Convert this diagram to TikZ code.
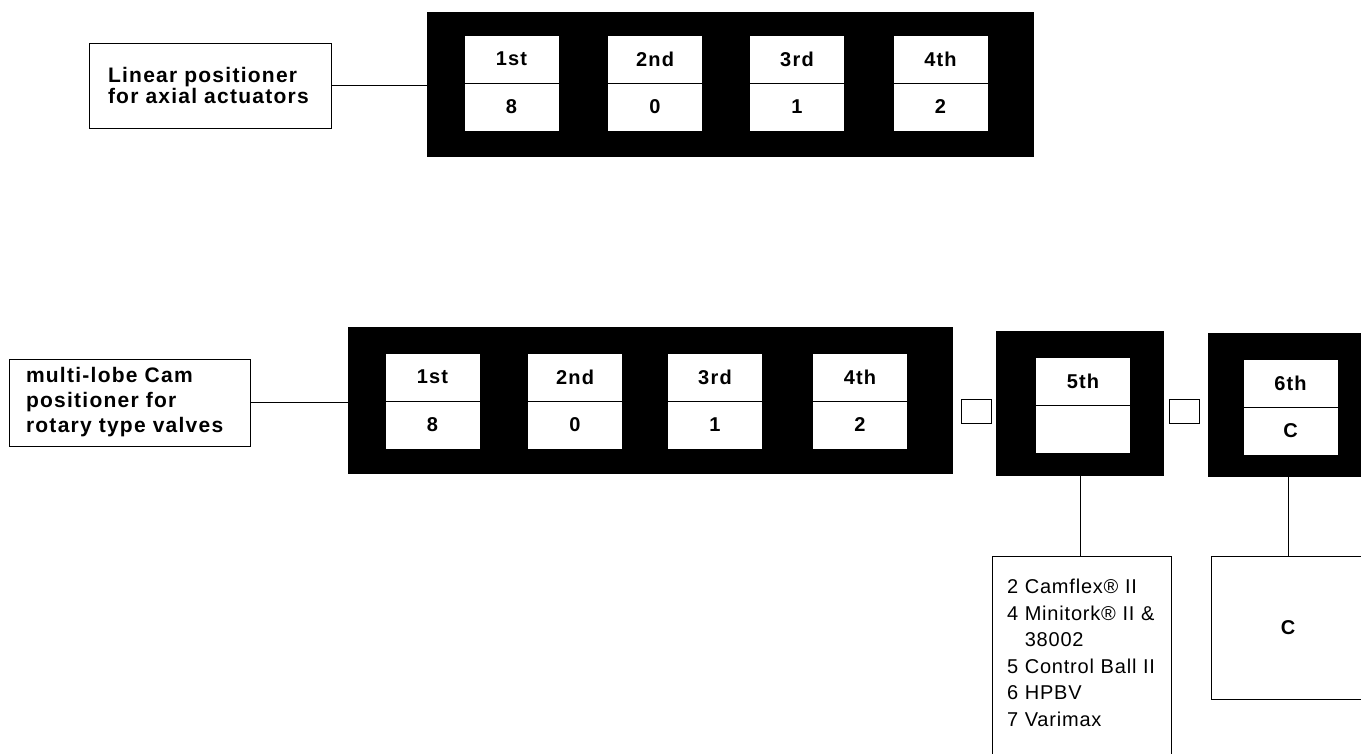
\documentclass[tikz,border=0pt]{standalone}
\usepackage{fontspec}
\setmainfont{Liberation Sans}
\newfontfamily\tagfont[LetterSpace=6]{Liberation Sans}
\newfontfamily\listfont[LetterSpace=4]{Liberation Sans}
\usepackage{tikz}
\usetikzlibrary{shapes}

\begin{document}
\begin{tikzpicture}[x=1pt,y=-1pt]
    \clip (0,0) rectangle (1361,753);
    \tikzstyle{bar}=[rectangle, fill=black, inner sep=0pt]
    \tikzstyle{half}=[rectangle, draw, fill=white, line width=0.8pt, inner sep=0pt,
    minimum width = 95pt, minimum height = 48pt,
    font=\tagfont\bfseries\fontsize{20}{24}\selectfont]
    \tikzstyle{tag}=[rectangle, draw, line width=0.8pt, align=left, inner ysep=0pt]
    \tikzstyle{sq}=[rectangle, draw, line width=0.8pt, minimum width = 30pt,
    minimum height = 24pt, inner sep=0pt]

    % top row
    \node[tag, text width=204pt, inner xsep=19pt, minimum height = 85pt,
    font=\tagfont\bfseries\fontsize{21}{21}\selectfont](tagA) at (210,85.5){Linear positioner\\for axial actuators};
    \node[bar, minimum width = 607pt, minimum height = 145pt](bar1) at (730.5,84.5){};

    \node[half](t1) at (511.5,59){1st};
    \node[half](v1) at (511.5,107){8};
    \node[half](t2) at (655,59){2nd};
    \node[half](v2) at (655,107){0};
    \node[half](t3) at (797,59){3rd};
    \node[half](v3) at (797,107){1};
    \node[half](t4) at (940.5,59){4th};
    \node[half](v4) at (940.5,107){2};

    \draw[line width=0.8pt] (tagA.east) -- (tagA.east -| bar1.west);

    % bottom row
    \node[tag, text width=207pt, inner xsep=17pt, minimum height = 87pt,
    font=\tagfont\bfseries\fontsize{21}{25}\selectfont](tagB) at (129.5,402.5){multi-lobe Cam\\positioner for\\rotary type valves};
    \node[bar, minimum width = 605pt, minimum height = 147pt](bar2) at (650.5,400.5){};

    \node[half](h1) at (432.5,377){1st};
    \node[half](d1) at (432.5,425){8};
    \node[half](h2) at (575,377){2nd};
    \node[half](d2) at (575,425){0};
    \node[half](h3) at (715,377){3rd};
    \node[half](d3) at (715,425){1};
    \node[half](h4) at (860,377){4th};
    \node[half](d4) at (860,425){2};

    \draw[line width=0.8pt] (tagB.east) -- (tagB.east -| bar2.west);

    \node[sq](sq1) at (976,411){};
    \node[bar, minimum width = 168pt, minimum height = 145pt](bar5) at (1080,403.5){};
    \node[half](h5) at (1083,381){5th};
    \node[half](d5) at (1083,429){};

    \node[sq](sq2) at (1184,411){};
    \node[bar, minimum width = 165pt, minimum height = 144pt](bar6) at (1290.5,405){};
    \node[half](h6) at (1290.5,383){6th};
    \node[half](d6) at (1290.5,431){C};

    % option boxes
    \node[rectangle, draw, line width=0.8pt, anchor=north, align=left,
    text width=149pt, inner xsep=15pt, inner ysep=23pt,
    font=\listfont\fontsize{20}{26.5}\selectfont](list5) at (1081.5,556){2 Camflex® II\\4 Minitork® II \&\\\hphantom{4 }38002\\5 Control Ball II\\6 HPBV\\7 Varimax\\~};
    \node[rectangle, draw, line width=0.8pt, minimum width = 154pt, minimum height = 143pt,
    font=\tagfont\bfseries\fontsize{20}{24}\selectfont](boxc) at (1288,627.5){C};

    \draw[line width=0.8pt] (bar5.south) -- (bar5.south |- list5.north);
    \draw[line width=0.8pt] (boxc.north |- bar6.south) -- (boxc.north);
\end{tikzpicture}
\end{document}
